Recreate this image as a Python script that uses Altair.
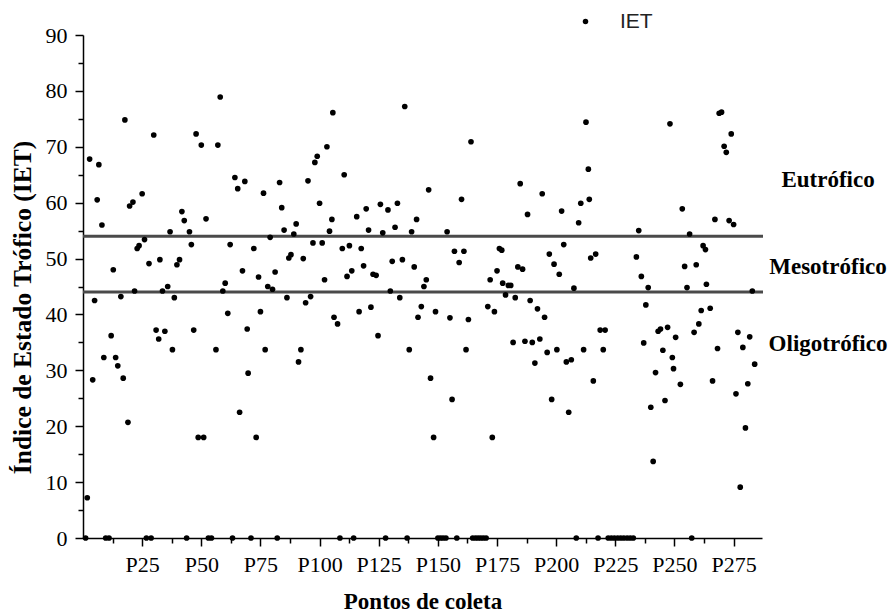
import altair as alt
import pandas as pd

# Point index (Pontos de coleta) and IET values
pontos = [
    1.8, 2.8, 4.1, 4.9, 6.0, 6.7, 8.0, 8.8, 11.9, 12.8, 13.8, 14.7, 16.0, 17.0, 17.7, 19.0, 19.7,
    21.1, 21.8, 22.9, 23.7, 25.0, 26.0, 27.9, 29.9, 30.9, 32.0, 32.5, 33.6, 34.6, 35.8, 36.8,
    37.8, 38.6, 39.7, 40.8, 41.8, 42.8, 45.0, 45.8, 46.8, 47.8, 48.7, 50.0, 51.0, 52.0, 56.2,
    57.0, 58.0, 59.1, 60.1, 61.2, 62.2, 64.2, 65.4, 66.2, 67.4, 68.4, 69.4, 69.8, 72.2, 73.2,
    74.2, 75.0, 76.3, 77.0, 78.1, 79.1, 80.1, 81.2, 83.1, 84.0, 85.0, 86.2, 87.0, 87.9, 89.1,
    90.1, 91.1, 92.1, 93.1, 94.1, 95.1, 96.2, 97.2, 98.0, 99.0, 100.0, 101.1, 102.1, 103.1,
    104.2, 105.2, 105.6, 106.1, 107.6, 109.6, 110.4, 111.6, 112.6, 113.6, 115.7, 116.7, 117.6,
    118.6, 119.7, 120.7, 121.7, 122.6, 123.9, 124.7, 125.7, 126.7, 128.9, 129.9, 130.7, 131.9,
    132.9, 133.9, 135.0, 136.0, 137.9, 138.9, 140.0, 141.0, 141.6, 143.0, 144.1, 145.1, 146.1,
    146.9, 148.2, 149.0, 153.9, 155.1, 156.0, 157.0, 159.0, 160.0, 161.0, 161.9, 162.9, 164.0,
    171.1, 172.1, 173.0, 173.9, 175.0, 176.0, 177.0, 177.4, 178.6, 179.8, 180.8, 181.8, 182.7,
    183.8, 184.8, 185.8, 186.8, 187.9, 189.0, 189.9, 191.0, 192.1, 193.1, 194.1, 195.1, 196.2,
    197.1, 198.1, 199.1, 200.3, 201.3, 202.3, 203.2, 204.3, 205.3, 206.4, 207.5, 209.5, 210.4,
    211.6, 212.6, 213.6, 214.0, 214.6, 215.7, 216.7, 218.6, 219.9, 220.7, 233.9, 234.9, 236.0,
    237.0, 237.9, 238.9, 240.0, 241.0, 242.0, 243.1, 244.1, 245.1, 246.0, 247.1, 248.1, 249.1,
    249.6, 250.5, 252.5, 253.3, 254.3, 255.3, 256.4, 258.3, 259.2, 260.3, 261.3, 262.1, 263.1,
    263.5, 265.1, 266.1, 267.1, 268.2, 268.9, 269.9, 271.0, 271.9, 273.1, 274.0, 275.0, 276.0,
    276.8, 277.8, 278.9, 280.0, 281.0, 281.8, 282.9, 283.9,
]
iet = [
    7.2, 67.8, 28.3, 42.5, 60.5, 66.8, 56.0, 32.3, 36.2, 48.0, 32.3, 30.8, 43.2, 28.6, 74.8, 20.7, 59.4,
    60.1, 44.2, 51.8, 52.3, 61.6, 53.4, 49.1, 72.1, 37.2, 35.6, 49.8, 44.2, 37.0, 45.0, 54.8,
    33.7, 43.0, 48.9, 49.8, 58.4, 56.8, 54.8, 52.5, 37.2, 72.3, 18.0, 70.3, 18.0, 57.1, 33.7,
    70.3, 78.9, 44.2, 45.6, 40.2, 52.5, 64.5, 62.5, 22.5, 47.8, 63.8, 37.4, 29.5, 51.8, 18.0,
    46.7, 40.5, 61.7, 33.7, 45.0, 53.8, 44.5, 47.6, 63.6, 59.1, 55.1, 43.0, 50.1, 50.7, 54.4,
    56.2, 31.5, 33.7, 50.0, 42.1, 63.9, 43.2, 52.8, 67.2, 68.3, 59.9, 52.8, 46.2, 70.0,
    54.9, 57.0, 76.1, 39.5, 38.3, 51.8, 65.0, 46.8, 52.3, 47.8, 57.5, 40.5, 51.8,
    48.7, 58.9, 55.1, 41.3, 47.2, 47.0, 36.2, 59.7, 54.6, 58.7, 44.2, 49.5, 55.6,
    59.9, 43.0, 49.8, 77.2, 33.7, 54.8, 48.5, 57.0, 39.5, 41.4, 45.0, 46.2, 62.3,
    28.6, 18.0, 40.5, 54.8, 39.4, 24.8, 51.3, 49.3, 60.6, 51.3, 33.7, 39.1, 70.9,
    41.4, 46.2, 18.0, 40.5, 47.8, 51.8, 51.5, 45.6, 43.5, 45.2, 45.2, 35.0, 43.0,
    48.5, 63.4, 48.1, 35.2, 57.9, 42.5, 35.0, 31.3, 41.0, 35.6, 61.6, 39.5, 33.2,
    50.8, 24.8, 49.0, 33.7, 47.2, 58.5, 52.5, 31.5, 22.5, 31.9, 44.7, 56.4, 59.9,
    33.7, 74.4, 66.0, 60.6, 50.1, 28.1, 50.8, 37.2, 33.7, 37.2, 50.3, 55.0, 46.8,
    34.9, 41.7, 44.8, 23.4, 13.7, 29.6, 37.0, 37.4, 33.6, 24.6, 37.7, 74.1, 32.3,
    30.3, 35.9, 27.5, 58.9, 48.6, 44.8, 54.4, 36.8, 48.9, 38.3, 40.7, 52.3, 51.6,
    45.4, 41.1, 28.1, 57.0, 33.9, 76.0, 76.2, 70.1, 69.0, 56.8, 72.3, 56.1, 25.8,
    36.8, 9.1, 34.1, 19.7, 27.6, 36.0, 44.2, 31.1,
]
# points with IET = 0
pontos_zero = [
    1.1, 9.6, 11.0, 26.8, 28.8, 43.8, 53.0, 54.3, 63.2, 71.0, 82.1, 108.6, 114.4, 127.9, 137.0,
    150.0, 151.1, 152.2, 153.4, 158.0, 164.7, 165.9, 167.0, 168.1, 169.2, 170.4, 208.5, 217.7,
    222.0, 223.3, 224.6, 226.0, 227.3, 228.6, 230.0, 231.3, 232.6, 257.3,
]

limites = [54, 44]
classes = ["Eutrófico", "Mesotrófico", "Oligotrófico"]
classes_y = [64, 48.5, 34.8]

x_ticks = [12.5 * k for k in range(1, 23)]
y_ticks = [5 * k for k in range(0, 19)]

W, H = 679, 503
serif = "Liberation Serif"

pts = pd.DataFrame({
    "ponto": pontos + pontos_zero,
    "IET": iet + [0.0] * len(pontos_zero),
    "serie": ["IET"] * (len(pontos) + len(pontos_zero)),
})
lim_df = pd.DataFrame({"lim": limites})
cls_df = pd.DataFrame({"classe": classes, "y": classes_y})

xscale = alt.Scale(domain=[0, 287], nice=False, zero=False)
yscale = alt.Scale(domain=[0, 90], nice=False)

x_axis = alt.Axis(
    values=x_ticks,
    labelExpr="datum.value % 25 === 0 ? 'P' + datum.value : ''",
    tickSize={"condition": {"test": "datum.value % 25 === 0", "value": 8}, "value": 5},
    labelPadding=8,
    labelFont=serif, labelFontSize=22, labelColor="black",
    title="Pontos de coleta", titleFont=serif, titleFontSize=23, titleFontWeight="bold",
    titleColor="black", titleY=52, titleBaseline="top",
    domainColor="black", domainWidth=1.5, tickColor="black", tickWidth=1.5,
    grid=False, labelFlush=False, labelOverlap=False,
)
y_axis = alt.Axis(
    values=y_ticks,
    labelExpr="datum.value % 10 === 0 ? datum.value : ''",
    tickSize={"condition": {"test": "datum.value % 10 === 0", "value": 8}, "value": 5},
    labelPadding=8,
    labelFont=serif, labelFontSize=22, labelColor="black",
    title="Índice de Estado Trófico (IET)", titleFont=serif, titleFontSize=25.5,
    titleFontWeight="bold", titleColor="black", titleX=-61, titleY=272,
    titleBaseline="middle", titleAlign="center", titleAngle=270,
    domainColor="black", domainWidth=1.5, tickColor="black", tickWidth=1.5,
    grid=False, labelFlush=False, labelOverlap=False,
)

rules = alt.Chart(lim_df).mark_rule(color="#4a4a4a", strokeWidth=3).encode(
    y=alt.Y("lim:Q", scale=yscale, axis=y_axis),
    x=alt.value(0),
    x2=alt.value(W + 1),
)

points = alt.Chart(pts).mark_circle(size=32, opacity=1).encode(
    x=alt.X("ponto:Q", scale=xscale, axis=x_axis),
    y=alt.Y("IET:Q", scale=yscale, axis=y_axis),
    color=alt.Color(
        "serie:N",
        scale=alt.Scale(range=["black"]),
        legend=alt.Legend(
            title=None, orient="none", legendX=492, legendY=-24,
            symbolType="circle", symbolSize=30, symbolFillColor="black",
            symbolStrokeWidth=0, labelFont="Liberation Sans", labelFontSize=21,
            labelColor="#222222", labelOffset=24, padding=0,
        ),
    ),
)

labels = alt.Chart(cls_df).mark_text(
    font=serif, fontSize=23, fontWeight="bold", color="black",
    align="center", baseline="middle",
).encode(
    y=alt.Y("y:Q", scale=yscale, axis=y_axis),
    x=alt.value(745),
    text="classe:N",
)

chart = (
    alt.layer(rules, points, labels)
    .properties(
        width=W, height=H,
        autosize=alt.AutoSizeParams(type="none"),
        padding={"left": 83, "top": 35, "right": 130, "bottom": 75},
        background="white",
    )
    .configure_view(stroke=None)
)

chart.save("out.html", embed_options={"renderer": "svg", "actions": False})
